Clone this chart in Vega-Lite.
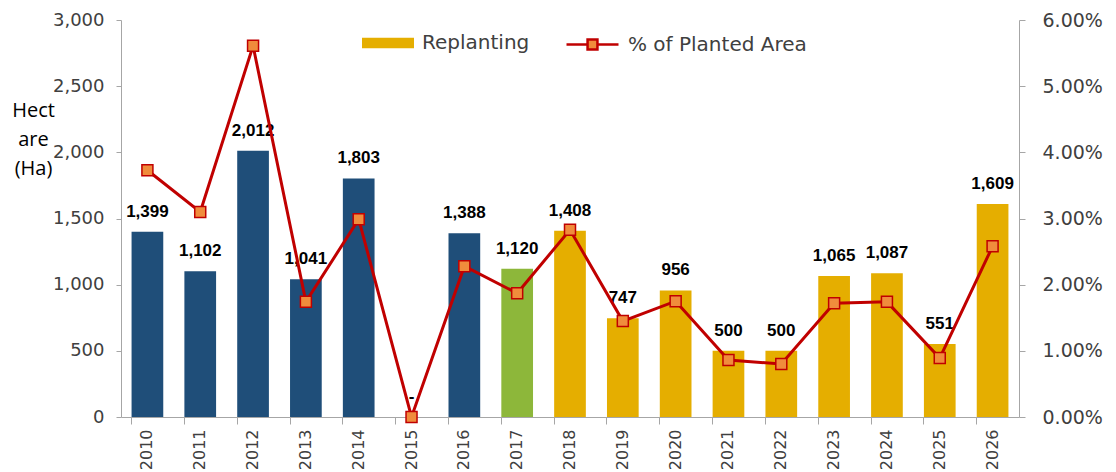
{
  "$schema": "https://vega.github.io/schema/vega-lite/v6.json",
  "autosize": {"type": "none"},
  "padding": {"left": 121, "top": 20, "right": 97, "bottom": 55},
  "width": 898,
  "height": 397,
  "background": "white",
  "config": {
    "view": {"stroke": null},
    "axis": {"grid": false, "domainColor": "#A6A6A6", "tickColor": "#A6A6A6", "labelColor": "#404040", "labelFont": "DejaVu Sans"},
    "legend": {"labelFont": "DejaVu Sans", "labelColor": "#404040", "labelFontSize": 20, "labelLimit": 400}
  },
  "data": {
    "values": [
      {"year": "2010", "ha": 1399, "pct": 0.0373, "cat": "Historical", "label": "1,399"},
      {"year": "2011", "ha": 1102, "pct": 0.0310, "cat": "Historical", "label": "1,102"},
      {"year": "2012", "ha": 2012, "pct": 0.0561, "cat": "Historical", "label": "2,012"},
      {"year": "2013", "ha": 1041, "pct": 0.0174, "cat": "Historical", "label": "1,041"},
      {"year": "2014", "ha": 1803, "pct": 0.0299, "cat": "Historical", "label": "1,803"},
      {"year": "2015", "ha": 0, "pct": 0.0, "cat": "Historical", "label": "-"},
      {"year": "2016", "ha": 1388, "pct": 0.0228, "cat": "Historical", "label": "1,388"},
      {"year": "2017", "ha": 1120, "pct": 0.0187, "cat": "Transition", "label": "1,120"},
      {"year": "2018", "ha": 1408, "pct": 0.0283, "cat": "Replanting", "label": "1,408"},
      {"year": "2019", "ha": 747, "pct": 0.0145, "cat": "Replanting", "label": "747"},
      {"year": "2020", "ha": 956, "pct": 0.0175, "cat": "Replanting", "label": "956"},
      {"year": "2021", "ha": 500, "pct": 0.0086, "cat": "Replanting", "label": "500"},
      {"year": "2022", "ha": 500, "pct": 0.0080, "cat": "Replanting", "label": "500"},
      {"year": "2023", "ha": 1065, "pct": 0.0172, "cat": "Replanting", "label": "1,065"},
      {"year": "2024", "ha": 1087, "pct": 0.0174, "cat": "Replanting", "label": "1,087"},
      {"year": "2025", "ha": 551, "pct": 0.0089, "cat": "Replanting", "label": "551"},
      {"year": "2026", "ha": 1609, "pct": 0.0258, "cat": "Replanting", "label": "1,609"}
    ]
  },
  "encoding": {
    "x": {
      "field": "year", "type": "ordinal",
      "scale": {"paddingInner": 0.4, "paddingOuter": 0.2},
      "axis": {"title": null, "labelAngle": -90, "labelFontSize": 16, "tickSize": 7, "bandPosition": 0, "labelPadding": 5, "labelBaseline": "middle"}
    }
  },
  "layer": [
    {
      "layer": [
        {
          "mark": {"type": "bar"},
          "encoding": {
            "y": {
              "field": "ha", "type": "quantitative",
              "scale": {"domain": [0, 3000], "nice": false},
              "axis": {
                "values": [0, 500, 1000, 1500, 2000, 2500, 3000], "format": ",.0f",
                "labelFontSize": 18, "tickSize": 5, "labelPadding": 12,
                "title": ["Hect", "are", "(Ha)"], "titleAngle": 0, "titleAlign": "center",
                "titleBaseline": "top", "titleX": -88, "titleY": 80, "titleFontSize": 20,
                "titleFont": "Open Sans", "titleFontWeight": "normal", "titleColor": "#000000", "titleLineHeight": 29
              }
            },
            "fill": {
              "field": "cat", "type": "nominal",
              "scale": {"domain": ["Historical", "Transition", "Replanting"], "range": ["#1F4E79", "#8DB73A", "#E5AE00"]},
              "legend": {
                "values": ["Replanting"], "title": null, "orient": "none", "legendX": 241, "legendY": -3,
                "symbolType": "M-1,-0.2H1V0.2H-1Z", "symbolSize": 2704, "symbolStrokeWidth": 0, "labelOffset": 8, "padding": 0
              }
            }
          }
        },
        {
          "mark": {"type": "text", "dy": -15, "baseline": "alphabetic", "fontWeight": "bold", "fontSize": 17, "font": "Liberation Sans", "color": "#000000"},
          "encoding": {
            "y": {"field": "ha", "type": "quantitative"},
            "text": {"field": "label"}
          }
        }
      ]
    },
    {
      "layer": [
        {
          "mark": {"type": "line", "strokeWidth": 3},
          "encoding": {
            "y": {
              "field": "pct", "type": "quantitative",
              "scale": {"domain": [0, 0.06], "nice": false},
              "axis": {"orient": "right", "values": [0, 0.01, 0.02, 0.03, 0.04, 0.05, 0.06], "format": ".2%", "labelFontSize": 19, "tickSize": 6, "labelPadding": 17, "title": null}
            },
            "stroke": {
              "datum": "% of Planted Area", "type": "nominal",
              "scale": {"range": ["#C00000"]},
              "legend": {
                "title": null, "orient": "none", "legendX": 444, "legendY": -3,
                "symbolType": "M-1,0H-0.19V-0.19H0.19V0.19H-0.19V0M0.19,0H1", "symbolSize": 2704, "labelOffset": 8, "padding": 0,
                "encode": {"symbols": {"update": {"fill": {"value": "#F08C3C"}, "strokeWidth": {"value": 2.5}, "stroke": {"value": "#C00000"}}}}
              }
            }
          }
        },
        {
          "mark": {"type": "point", "shape": "square", "filled": true, "size": 121, "fill": "#F08C3C", "stroke": "#C00000", "strokeWidth": 1.5, "opacity": 1},
          "encoding": {
            "y": {"field": "pct", "type": "quantitative"}
          }
        }
      ]
    }
  ],
  "resolve": {"scale": {"y": "independent"}}
}
